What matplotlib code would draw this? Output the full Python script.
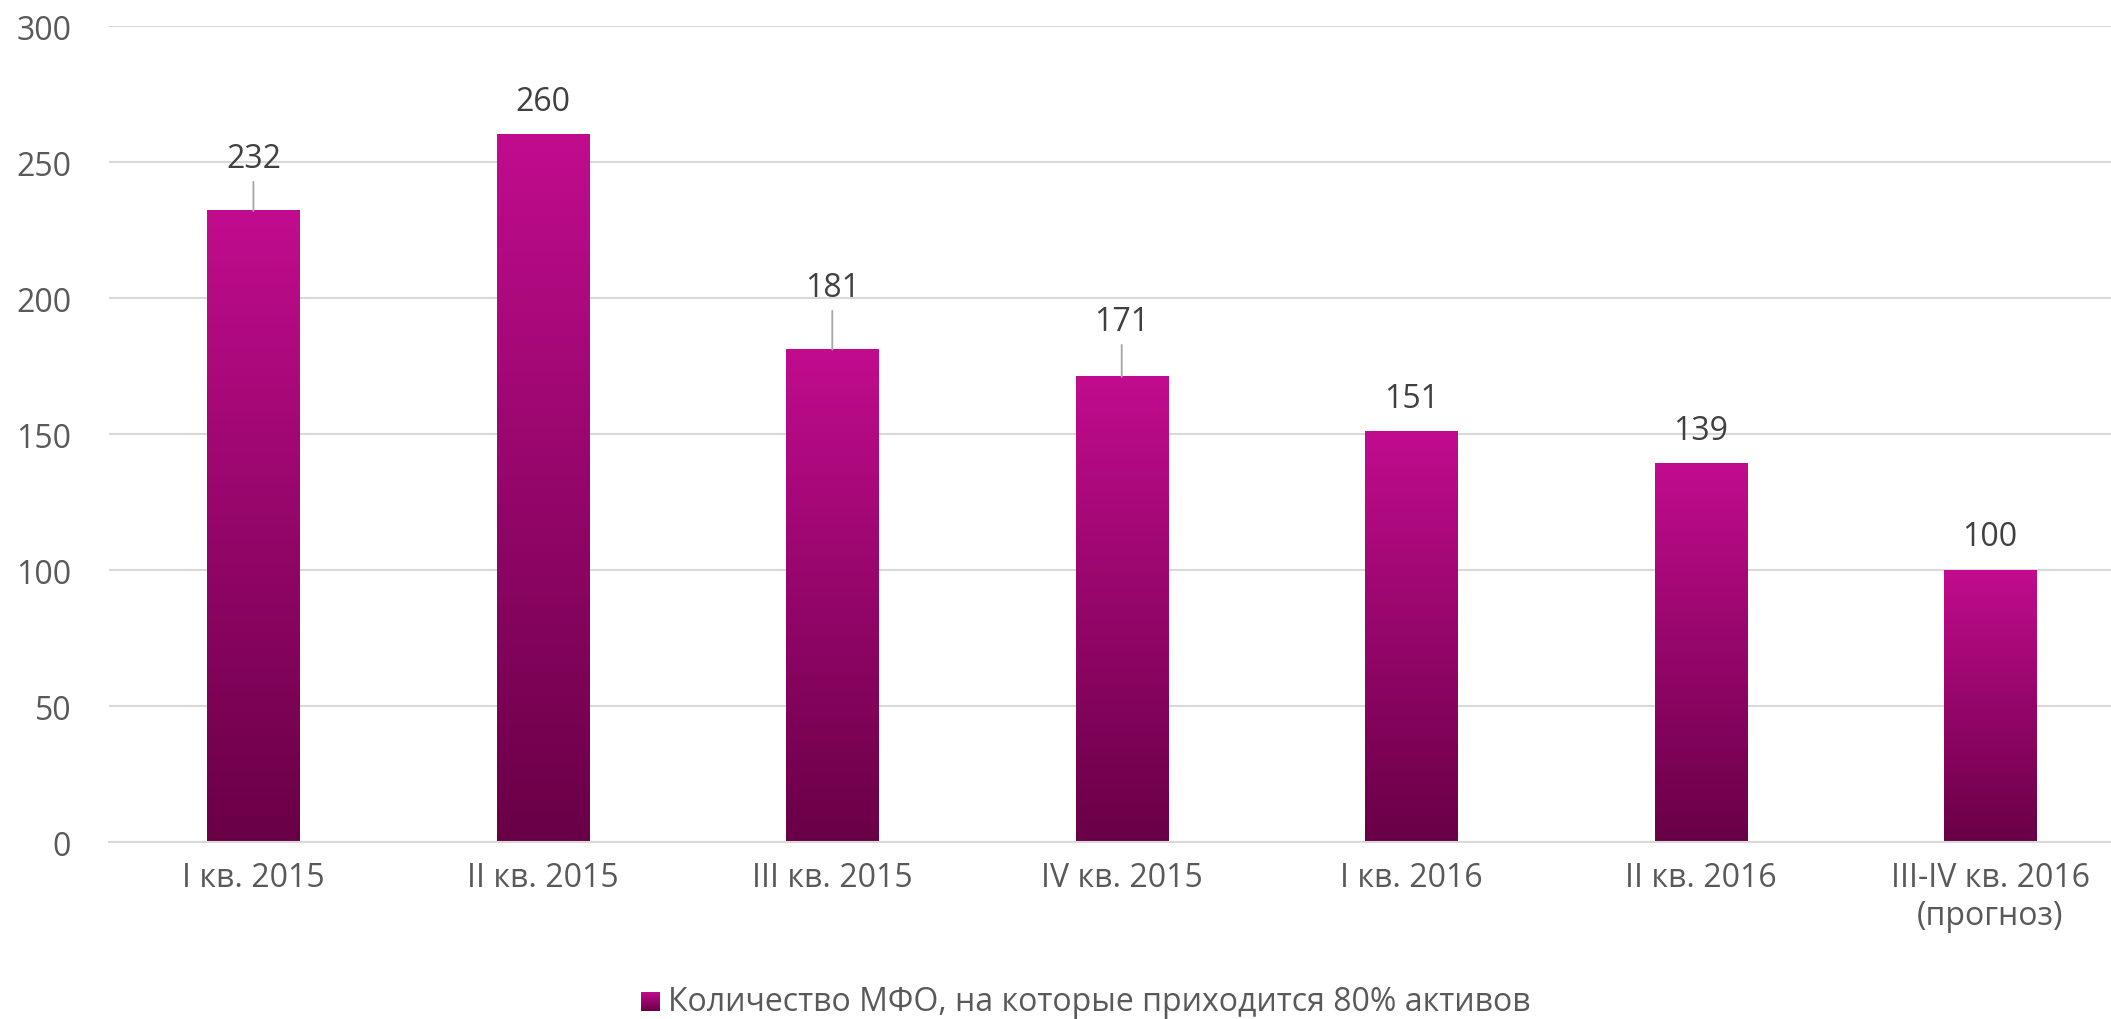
import numpy as np
import matplotlib
matplotlib.use("Agg")
import matplotlib.pyplot as plt
from matplotlib.colors import LinearSegmentedColormap

plt.rcParams['font.family'] = ['Open Sans', 'DejaVu Sans']

categories = ['I кв. 2015', 'II кв. 2015', 'III кв. 2015', 'IV кв. 2015',
              'I кв. 2016', 'II кв. 2016', 'III-IV кв. 2016\n(прогноз)']
values = [232, 260, 181, 171, 151, 139, 100]
legend_label = 'Количество МФО, на которые приходится 80% активов'

# extra lift of labels (points) - some labels sit higher with a leader line
label_lift = [14, 0, 21, 16, 0, 0, 0]

cmap = LinearSegmentedColormap.from_list('mfo', ['#690046', '#C10C8E'])
grad = np.linspace(0, 1, 256).reshape(-1, 1)

fig = plt.figure(figsize=(21.11, 10.2), dpi=100)
ax = fig.add_axes([0.0515, 0.1735, 0.9485, 0.8])

x = np.arange(len(categories))
width = 0.318
bars = ax.bar(x, values, width=width, color='none', edgecolor='none', zorder=2)
for b in bars:
    x0, w, h = b.get_x(), b.get_width(), b.get_height()
    ax.imshow(grad, cmap=cmap, origin='lower', aspect='auto',
              extent=(x0, x0 + w, 0, h), zorder=2, interpolation='bicubic')

base = 12
for xi, v, lift in zip(x, values, label_lift):
    ax.annotate(str(v), (xi, v), xytext=(0, base + lift), textcoords='offset points',
                ha='center', va='bottom', fontsize=23, color='#404040', zorder=3)
    if lift:
        # leader line up to just under the label
        ax.annotate('', (xi, v), xytext=(0, base + lift - 5), textcoords='offset points',
                    arrowprops=dict(arrowstyle='-', color='#A6A6A6', lw=1.3,
                                    shrinkA=0, shrinkB=0), zorder=3)

ax.set_xlim(-0.5, 6.418)
ax.set_ylim(0, 300)
ax.set_yticks(range(0, 301, 50))
ax.set_xticks(x)
ax.set_xticklabels(categories, fontsize=23, color='#595959', linespacing=1.2)
ax.tick_params(axis='y', labelsize=23, labelcolor='#595959', length=0, pad=27)
ax.tick_params(axis='x', length=0, pad=14)
ax.grid(axis='y', color='#D9D9D9', lw=1.5, zorder=0)
ax.set_axisbelow(True)
for s in ['top', 'right', 'left']:
    ax.spines[s].set_visible(False)
ax.spines['bottom'].set_color('#D9D9D9')
ax.spines['bottom'].set_linewidth(1.5)

# legend: gradient square + text
lax = fig.add_axes([641 / 2111, 1 - 1012 / 1020, 19 / 2111, 19 / 1020])
lax.imshow(grad, cmap=cmap, origin='lower', aspect='auto')
lax.axis('off')
fig.text(668 / 2111, 1 - 1003 / 1020, legend_label, fontsize=23, color='#595959',
         ha='left', va='center')

fig.savefig('out.png', dpi=100)
